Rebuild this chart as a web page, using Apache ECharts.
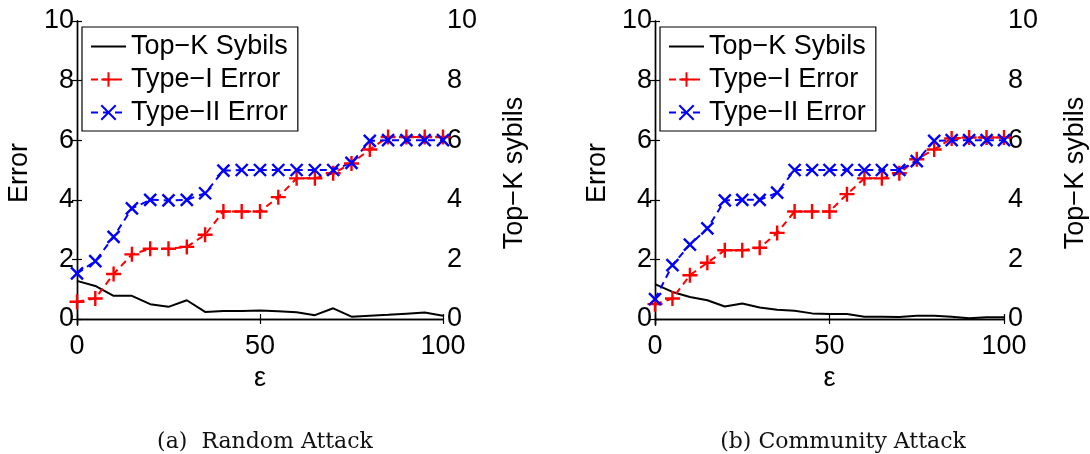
<!DOCTYPE html>
<html>
<head>
<meta charset="utf-8">
<script src="https://cdn.jsdelivr.net/npm/echarts@6/dist/echarts.min.js"></script>
<style>
html,body{margin:0;padding:0;background:#fff;}
#chart{width:1090px;height:454px;}
</style>
</head>
<body>
<div id="chart"></div>
<script>
// ---- data ----
var eps = [0,5,10,15,20,25,30,35,40,45,50,55,60,65,70,75,80,85,90,95,100];
var xTicks = [0, 50, 100];
var yTicks = [0, 2, 4, 6, 8, 10];

// (a) Random Attack
var randTopK  = [1.28,1.11,0.78,0.78,0.50,0.41,0.63,0.24,0.27,0.27,0.29,0.26,0.23,0.13,0.36,0.08,0.11,0.14,0.18,0.22,0.11];
var randType1 = [0.58,0.69,1.51,2.17,2.36,2.36,2.42,2.83,3.61,3.61,3.61,4.09,4.72,4.72,4.89,5.22,5.69,6.11,6.11,6.11,6.11];
var randType2 = [1.53,1.94,2.76,3.71,4.00,3.98,4.00,4.22,4.98,5.00,5.00,5.00,5.00,5.00,5.00,5.24,5.98,6.00,6.00,6.00,6.00];

// (b) Community Attack
var commTopK  = [1.17,0.91,0.74,0.63,0.42,0.52,0.39,0.31,0.28,0.19,0.17,0.17,0.08,0.08,0.07,0.11,0.11,0.08,0.03,0.06,0.06];
var commType1 = [0.50,0.69,1.47,1.89,2.31,2.31,2.39,2.89,3.61,3.61,3.61,4.19,4.72,4.72,4.89,5.36,5.69,6.06,6.09,6.09,6.09];
var commType2 = [0.67,1.81,2.50,3.04,3.98,4.00,4.00,4.24,5.00,5.00,5.00,5.00,5.00,5.00,5.00,5.30,5.98,6.00,6.00,6.00,6.00];

var seriesNames = ['Top\u2212K Sybils', 'Type\u2212I Error', 'Type\u2212II Error'];
var captions = ['(a)  Random Attack', '(b) Community Attack'];
var xName = '\u03b5';
var yLeftName = 'Error';
var yRightName = 'Top\u2212K sybils';

// ---- build ----
function zip(xs, ys){ return xs.map(function(x,i){ return [x, ys[i]]; }); }

var FONT = 'Liberation Sans';
var PLUS = 'path://M0,-5L0,5M-5,0L5,0';
var CROSS = 'path://M-5,-5L5,5M-5,5L5,-5';

var grids = [
  {left: 77, right: 647, top: 21, bottom: 129},
  {left: 655, right: 68, top: 21, bottom: 129}
];
var centers = [260, 838];
var datasets = [
  [randTopK, randType1, randType2],
  [commTopK, commType1, commType2]
];

var xAxes = [], yAxes = [], series = [], legends = [], titles = [];
var axisLine = {show: true, lineStyle: {color: '#000', width: 1.4}};
var tickStyle = {color: '#000', width: 1.2};

grids.forEach(function(g, gi){
  g.show = false;
  g.containLabel = false;
  xAxes.push({
    type: 'value', gridIndex: gi, min: 0, max: 100, interval: 50,
    position: 'bottom',
    name: xName, nameLocation: 'middle', nameGap: 33,
    nameTextStyle: {fontFamily: FONT, fontSize: 27, color: '#000'},
    axisLine: axisLine,
    axisTick: {show: true, inside: true, length: 5, lineStyle: tickStyle},
    axisLabel: {fontFamily: FONT, fontSize: 27, color: '#000', margin: 8},
    splitLine: {show: false}
  });
  xAxes.push({
    type: 'value', gridIndex: gi, min: 0, max: 100, interval: 50,
    position: 'top',
    axisLine: axisLine,
    axisTick: {show: true, inside: true, length: 5, lineStyle: tickStyle},
    axisLabel: {show: false},
    splitLine: {show: false}
  });
  yAxes.push({
    type: 'value', gridIndex: gi, min: -0.2, max: 10, position: 'left',
    name: yLeftName, nameLocation: 'middle', nameGap: 44, nameRotate: 90,
    nameTextStyle: {fontFamily: FONT, fontSize: 27, color: '#000'},
    axisLine: axisLine,
    axisTick: {show: true, inside: true, length: 5, customValues: yTicks, lineStyle: tickStyle},
    axisLabel: {fontFamily: FONT, fontSize: 27, color: '#000', margin: 3, customValues: yTicks},
    splitLine: {show: false}
  });
  yAxes.push({
    type: 'value', gridIndex: gi, min: -0.2, max: 10, position: 'right',
    name: yRightName, nameLocation: 'middle', nameGap: 58, nameRotate: 90,
    nameTextStyle: {fontFamily: FONT, fontSize: 27, color: '#000'},
    axisLine: axisLine,
    axisTick: {show: true, inside: true, length: 5, customValues: yTicks, lineStyle: tickStyle},
    axisLabel: {fontFamily: FONT, fontSize: 27, color: '#000', margin: 4, customValues: yTicks},
    splitLine: {show: false}
  });

  var d = datasets[gi];
  var xb = gi * 2, yl = gi * 2, yr = gi * 2 + 1;
  series.push({
    name: seriesNames[0], type: 'line', xAxisIndex: xb, yAxisIndex: yr,
    data: zip(eps, d[0]), symbol: 'circle', symbolSize: 1, showSymbol: false,
    silent: true, animation: false,
    lineStyle: {color: '#000', width: 2, type: 'solid'},
    itemStyle: {color: 'rgba(0,0,0,0)', borderWidth: 0}
  });
  series.push({
    name: seriesNames[1], type: 'line', xAxisIndex: xb, yAxisIndex: yl,
    data: zip(eps, d[1]), symbol: PLUS, symbolSize: 15, showAllSymbol: true,
    silent: true, animation: false,
    lineStyle: {color: '#ff0000', width: 2, type: [7, 5]},
    itemStyle: {color: '#ff0000', borderColor: '#ff0000', borderWidth: 2.4}
  });
  series.push({
    name: seriesNames[2], type: 'line', xAxisIndex: xb, yAxisIndex: yl,
    data: zip(eps, d[2]), symbol: CROSS, symbolSize: 12, showAllSymbol: true,
    silent: true, animation: false,
    lineStyle: {color: '#0000ff', width: 2, type: [7, 5]},
    itemStyle: {color: '#0000ff', borderColor: '#0000ff', borderWidth: 2.4}
  });

  legends.push({
    data: seriesNames, orient: 'vertical',
    left: g.left + 5, top: 27,
    itemWidth: 35, itemHeight: 18, itemGap: 6,
    padding: [6, 10, 5, 8],
    borderColor: '#000', borderWidth: 1.2, backgroundColor: '#fff',
    selectedMode: false,
    textStyle: {fontFamily: FONT, fontSize: 27, color: '#000'}
  });

  titles.push({
    text: captions[gi], left: centers[gi], top: 426, textAlign: 'center',
    textStyle: {fontFamily: 'DejaVu Serif', fontSize: 22, fontWeight: 'normal', color: '#111'}
  });
});

var chart = echarts.init(document.getElementById('chart'), null, {renderer: 'canvas'});
chart.setOption({
  animation: false,
  backgroundColor: '#fff',
  title: titles,
  grid: grids,
  xAxis: xAxes,
  yAxis: yAxes,
  legend: legends,
  series: series
});
</script>
</body>
</html>
